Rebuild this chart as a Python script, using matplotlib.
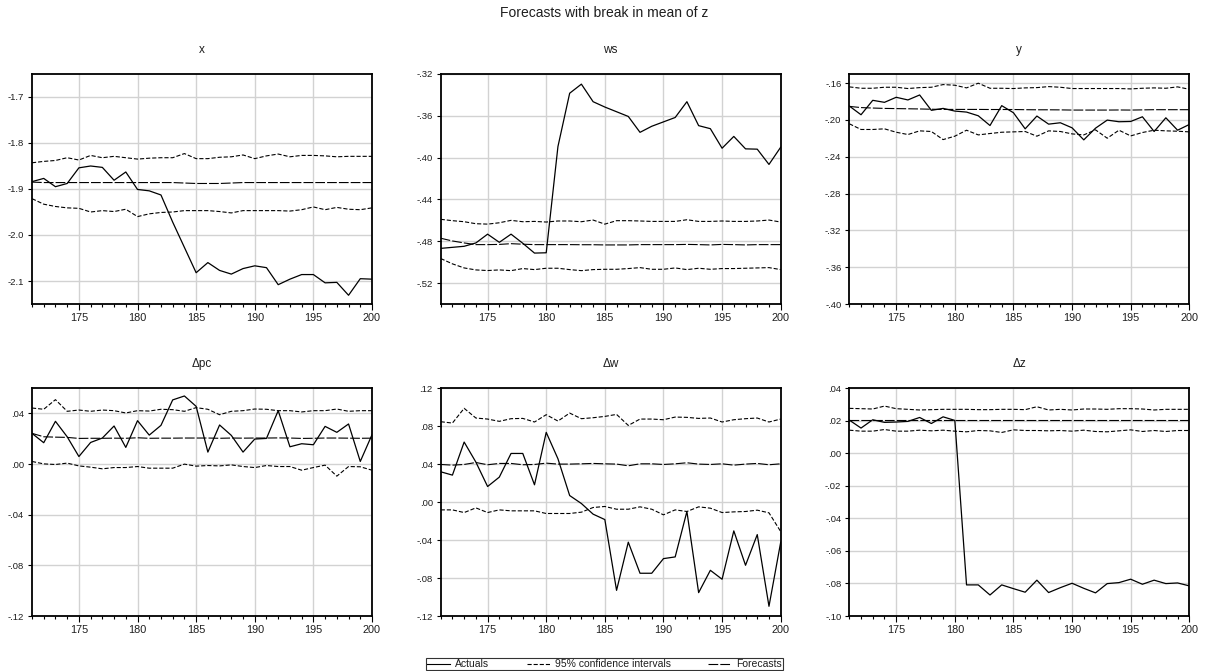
import matplotlib
matplotlib.use("Agg")
import matplotlib.pyplot as plt
import numpy as np
from matplotlib.ticker import FuncFormatter, MultipleLocator, FixedLocator
from matplotlib.lines import Line2D

plt.rcParams['font.family'] = ['Liberation Sans', 'DejaVu Sans']
plt.rcParams['lines.scale_dashes'] = False

years = list(range(171, 201))

# ---------------- x ----------------
x_act = [-1.884, -1.877, -1.895, -1.888, -1.854, -1.850, -1.853, -1.881, -1.863, -1.901,
         -1.904, -1.913, -1.972, -2.027, -2.082, -2.060, -2.077, -2.085, -2.073, -2.067,
         -2.071, -2.108, -2.096, -2.086, -2.086, -2.104, -2.103, -2.131, -2.095, -2.096]
x_fc = [-1.885, -1.886, -1.886, -1.886, -1.886, -1.886, -1.886, -1.886, -1.886, -1.886,
        -1.886, -1.886, -1.886, -1.887, -1.888, -1.888, -1.888, -1.887, -1.886, -1.886,
        -1.886, -1.886, -1.886, -1.886, -1.886, -1.886, -1.886, -1.886, -1.886, -1.886]
x_up = [-1.843, -1.840, -1.838, -1.832, -1.837, -1.827, -1.832, -1.829, -1.832, -1.835,
        -1.833, -1.832, -1.832, -1.823, -1.834, -1.834, -1.831, -1.830, -1.826, -1.834,
        -1.828, -1.824, -1.830, -1.827, -1.827, -1.828, -1.830, -1.829, -1.829, -1.829]
x_lo = [-1.921, -1.933, -1.938, -1.941, -1.942, -1.950, -1.947, -1.949, -1.944, -1.960,
        -1.954, -1.951, -1.950, -1.947, -1.947, -1.947, -1.949, -1.952, -1.947, -1.947,
        -1.947, -1.947, -1.948, -1.945, -1.939, -1.945, -1.940, -1.944, -1.945, -1.941]

# ---------------- ws ----------------
ws_act = [-0.4868, -0.4858, -0.4848, -0.4816, -0.4732, -0.4810, -0.4732, -0.4819, -0.4913, -0.4910,
          -0.3894, -0.3384, -0.3297, -0.3465, -0.3516, -0.3561, -0.3606, -0.3758, -0.3700, -0.3658,
          -0.3616, -0.3465, -0.3694, -0.3723, -0.3910, -0.3797, -0.3916, -0.3919, -0.4065, -0.3900]
ws_fc = [-0.4771, -0.4797, -0.4816, -0.4832, -0.4832, -0.4830, -0.4823, -0.4828, -0.4832, -0.4832,
         -0.4832, -0.4832, -0.4833, -0.4833, -0.4835, -0.4835, -0.4835, -0.4832, -0.4832, -0.4832,
         -0.4832, -0.4830, -0.4832, -0.4835, -0.4830, -0.4832, -0.4835, -0.4832, -0.4832, -0.4832]
ws_up = [-0.4590, -0.4603, -0.4613, -0.4632, -0.4636, -0.4623, -0.4600, -0.4613, -0.4610, -0.4616,
         -0.4606, -0.4606, -0.4613, -0.4597, -0.4636, -0.4603, -0.4603, -0.4606, -0.4610, -0.4610,
         -0.4610, -0.4594, -0.4610, -0.4610, -0.4606, -0.4610, -0.4610, -0.4606, -0.4597, -0.4616]
ws_lo = [-0.4965, -0.5016, -0.5055, -0.5074, -0.5080, -0.5074, -0.5081, -0.5061, -0.5071, -0.5058,
         -0.5058, -0.5071, -0.5081, -0.5071, -0.5068, -0.5068, -0.5061, -0.5052, -0.5068, -0.5068,
         -0.5055, -0.5071, -0.5058, -0.5068, -0.5061, -0.5061, -0.5058, -0.5055, -0.5052, -0.5071]

# ---------------- y ----------------
y_act = [-0.1848, -0.1943, -0.1786, -0.1808, -0.1753, -0.1782, -0.1728, -0.1895, -0.1874, -0.1903,
         -0.1914, -0.1954, -0.2060, -0.1844, -0.1921, -0.2096, -0.1957, -0.2045, -0.2030, -0.2085,
         -0.2216, -0.2089, -0.2001, -0.2019, -0.2016, -0.1965, -0.2125, -0.1976, -0.2111, -0.2049]
y_fc = [-0.1852, -0.1865, -0.1870, -0.1874, -0.1876, -0.1878, -0.1880, -0.1883, -0.1885, -0.1885,
        -0.1885, -0.1885, -0.1886, -0.1886, -0.1886, -0.1888, -0.1889, -0.1889, -0.1890, -0.1892,
        -0.1892, -0.1892, -0.1892, -0.1891, -0.1892, -0.1890, -0.1888, -0.1888, -0.1888, -0.1888]
y_up = [-0.1640, -0.1655, -0.1655, -0.1644, -0.1644, -0.1658, -0.1648, -0.1644, -0.1615, -0.1622,
        -0.1651, -0.1600, -0.1655, -0.1655, -0.1658, -0.1651, -0.1648, -0.1637, -0.1644, -0.1658,
        -0.1658, -0.1658, -0.1658, -0.1658, -0.1662, -0.1655, -0.1651, -0.1655, -0.1640, -0.1666]
y_lo = [-0.2041, -0.2103, -0.2103, -0.2096, -0.2133, -0.2158, -0.2118, -0.2125, -0.2213, -0.2176,
        -0.2111, -0.2162, -0.2147, -0.2133, -0.2129, -0.2125, -0.2176, -0.2118, -0.2125, -0.2151,
        -0.2162, -0.2107, -0.2198, -0.2111, -0.2173, -0.2136, -0.2111, -0.2118, -0.2122, -0.2129]

# ---------------- dpc ----------------
dpc_act = [0.0242, 0.0168, 0.0337, 0.0215, 0.0059, 0.0170, 0.0205, 0.0300, 0.0131, 0.0342,
           0.0228, 0.0305, 0.0506, 0.0537, 0.0455, 0.0094, 0.0308, 0.0226, 0.0094, 0.0197,
           0.0202, 0.0421, 0.0136, 0.0160, 0.0152, 0.0297, 0.0250, 0.0316, 0.0020, 0.0231]
dpc_fc = [0.0242, 0.0215, 0.0212, 0.0210, 0.0202, 0.0203, 0.0203, 0.0204, 0.0203, 0.0207,
          0.0203, 0.0204, 0.0204, 0.0205, 0.0205, 0.0205, 0.0203, 0.0205, 0.0204, 0.0205,
          0.0205, 0.0206, 0.0205, 0.0202, 0.0203, 0.0205, 0.0205, 0.0204, 0.0203, 0.0204]
dpc_up = [0.0442, 0.0432, 0.0508, 0.0416, 0.0426, 0.0416, 0.0426, 0.0421, 0.0403, 0.0421,
          0.0418, 0.0432, 0.0429, 0.0416, 0.0445, 0.0432, 0.0389, 0.0416, 0.0421, 0.0434,
          0.0432, 0.0421, 0.0421, 0.0411, 0.0421, 0.0421, 0.0434, 0.0416, 0.0421, 0.0421]
dpc_lo = [0.0020, 0.0001, -0.0004, 0.0007, -0.0015, -0.0025, -0.0038, -0.0028, -0.0028, -0.0020,
          -0.0033, -0.0033, -0.0033, -0.0001, -0.0017, -0.0012, -0.0015, -0.0007, -0.0020, -0.0028,
          -0.0012, -0.0020, -0.0020, -0.0049, -0.0028, -0.0009, -0.0096, -0.0020, -0.0022, -0.0049]

# ---------------- dw ----------------
dw_act = [0.0318, 0.0283, 0.0631, 0.0420, 0.0163, 0.0262, 0.0511, 0.0511, 0.0181, 0.0733,
          0.0455, 0.0068, -0.0016, -0.0128, -0.0185, -0.0930, -0.0423, -0.0750, -0.0750, -0.0596,
          -0.0578, -0.0100, -0.0954, -0.0719, -0.0813, -0.0304, -0.0666, -0.0343, -0.1098, -0.0423]
dw_fc = [0.0395, 0.0388, 0.0395, 0.0416, 0.0392, 0.0406, 0.0406, 0.0392, 0.0395, 0.0409,
         0.0399, 0.0399, 0.0402, 0.0406, 0.0402, 0.0399, 0.0381, 0.0402, 0.0402, 0.0395,
         0.0402, 0.0413, 0.0399, 0.0395, 0.0402, 0.0388, 0.0399, 0.0406, 0.0392, 0.0402]
dw_up = [0.0845, 0.0831, 0.0986, 0.0884, 0.0873, 0.0849, 0.0877, 0.0880, 0.0842, 0.0919,
         0.0852, 0.0936, 0.0877, 0.0887, 0.0901, 0.0922, 0.0806, 0.0873, 0.0873, 0.0866,
         0.0894, 0.0891, 0.0880, 0.0884, 0.0842, 0.0866, 0.0877, 0.0884, 0.0842, 0.0873]
dw_lo = [-0.0083, -0.0083, -0.0111, -0.0062, -0.0111, -0.0083, -0.0093, -0.0093, -0.0093, -0.0121,
         -0.0121, -0.0121, -0.0107, -0.0058, -0.0047, -0.0076, -0.0076, -0.0051, -0.0076, -0.0135,
         -0.0083, -0.0100, -0.0051, -0.0065, -0.0111, -0.0104, -0.0100, -0.0086, -0.0114, -0.0311]

# ---------------- dz ----------------
dz_act = [0.0203, 0.0154, 0.0205, 0.0189, 0.0191, 0.0195, 0.0219, 0.0182, 0.0223, 0.0201,
          -0.0809, -0.0809, -0.0871, -0.0809, -0.0832, -0.0854, -0.0780, -0.0856, -0.0826, -0.0799,
          -0.0830, -0.0858, -0.0801, -0.0795, -0.0774, -0.0805, -0.0780, -0.0801, -0.0797, -0.0815]
dz_fc = [0.0203] * 30
dz_up = [0.0275, 0.0273, 0.0271, 0.0289, 0.0273, 0.0269, 0.0265, 0.0267, 0.0269, 0.0269,
         0.0269, 0.0267, 0.0267, 0.0269, 0.0269, 0.0267, 0.0285, 0.0265, 0.0269, 0.0265,
         0.0271, 0.0271, 0.0269, 0.0273, 0.0273, 0.0271, 0.0265, 0.0269, 0.0269, 0.0269]
dz_lo = [0.0141, 0.0135, 0.0135, 0.0145, 0.0135, 0.0135, 0.0141, 0.0137, 0.0141, 0.0135,
         0.0131, 0.0139, 0.0137, 0.0127, 0.0143, 0.0139, 0.0139, 0.0137, 0.0139, 0.0135,
         0.0141, 0.0133, 0.0131, 0.0137, 0.0143, 0.0133, 0.0139, 0.0133, 0.0139, 0.0139]

titles = ["x", "ws", "y", "\u0394pc", "\u0394w", "\u0394z"]
series = [(x_act, x_fc, x_up, x_lo), (ws_act, ws_fc, ws_up, ws_lo), (y_act, y_fc, y_up, y_lo),
          (dpc_act, dpc_fc, dpc_up, dpc_lo), (dw_act, dw_fc, dw_up, dw_lo), (dz_act, dz_fc, dz_up, dz_lo)]
ylims = [(-2.15, -1.65), (-0.54, -0.32), (-0.40, -0.15), (-0.12, 0.06), (-0.12, 0.12), (-0.10, 0.04)]
yticks = [[-2.1, -2.0, -1.9, -1.8, -1.7],
          [-0.52, -0.48, -0.44, -0.40, -0.36, -0.32],
          [-0.40, -0.36, -0.32, -0.28, -0.24, -0.20, -0.16],
          [-0.12, -0.08, -0.04, 0.00, 0.04],
          [-0.12, -0.08, -0.04, 0.00, 0.04, 0.08, 0.12],
          [-0.10, -0.08, -0.06, -0.04, -0.02, 0.00, 0.02, 0.04]]
ydec = [1, 2, 2, 2, 2, 2]
xticks = [175, 180, 185, 190, 195, 200]

def make_fmt(d):
    def f(v, pos):
        s = f"{v:.{d}f}"
        if d == 2:
            s = s.replace("0.", ".")
        if s.startswith("-") and float(s) == 0:
            s = s[1:]
        return s
    return FuncFormatter(f)

W, H = 1209, 671
fig = plt.figure(figsize=(W / 100, H / 100), dpi=100)

lefts = [32, 440.7, 849.3]
tops = [74, 388]
bottoms = [304, 616]
aw = 340

CI_DASH = (3.0, 1.4)
FC_DASH = (7.0, 1.5)
gridc = "#d2d2d2"
txtc = "#1e1e1e"

for i in range(6):
    r, c = divmod(i, 3)
    l = lefts[c] / W
    b = 1 - bottoms[r] / H
    h = (bottoms[r] - tops[r]) / H
    ax = fig.add_axes([l, b, aw / W, h])
    act, fc, up, lo = series[i]
    ax.plot(years, up, color="black", lw=0.8, dashes=CI_DASH)
    ax.plot(years, lo, color="black", lw=0.8, dashes=CI_DASH)
    ax.plot(years, fc, color="black", lw=0.8, dashes=FC_DASH)
    ax.plot(years, act, color="black", lw=0.9)
    ax.set_xlim(171, 200)
    ax.set_ylim(*ylims[i])
    ax.xaxis.set_major_locator(FixedLocator(xticks))
    ax.xaxis.set_minor_locator(MultipleLocator(1))
    ax.yaxis.set_major_locator(FixedLocator(yticks[i]))
    ax.yaxis.set_major_formatter(make_fmt(ydec[i]))
    ax.grid(True, which="major", color=gridc, lw=1.0)
    ax.set_axisbelow(True)
    ax.tick_params(axis="x", which="major", direction="out", length=4.3, width=0.8,
                   labelsize=7.8, pad=2.5, colors="black", labelcolor=txtc)
    ax.tick_params(axis="x", which="minor", direction="out", length=2.2, width=0.8)
    ax.tick_params(axis="y", which="major", direction="out", length=3.2, width=0.8,
                   labelsize=6.8, pad=2.5, labelcolor=txtc)
    for s in ax.spines.values():
        s.set_linewidth(1.3)
        s.set_color("black")
    ax.set_title(titles[i], fontsize=8.5, pad=15, color=txtc)

fig.suptitle("Forecasts with break in mean of z", x=0.5, y=1 - 13 / H, va="center",
             fontsize=10, color=txtc)

handles = [Line2D([], [], color="black", lw=0.8),
           Line2D([], [], color="black", lw=0.8, dashes=CI_DASH),
           Line2D([], [], color="black", lw=0.8, dashes=FC_DASH)]
labels = ["Actuals", "95% confidence intervals", "Forecasts"]
leg = fig.legend(handles, labels, loc="lower center", bbox_to_anchor=(0.5, 0.0), ncol=3,
                 fontsize=7.5, frameon=True, fancybox=False, handlelength=2.2,
                 handletextpad=0.5, columnspacing=3.6, borderpad=0.1,
                 borderaxespad=0.05)
leg.get_frame().set_edgecolor("black")
leg.get_frame().set_linewidth(0.8)
for t in leg.get_texts():
    t.set_color(txtc)

fig.savefig("out.png", dpi=100)
